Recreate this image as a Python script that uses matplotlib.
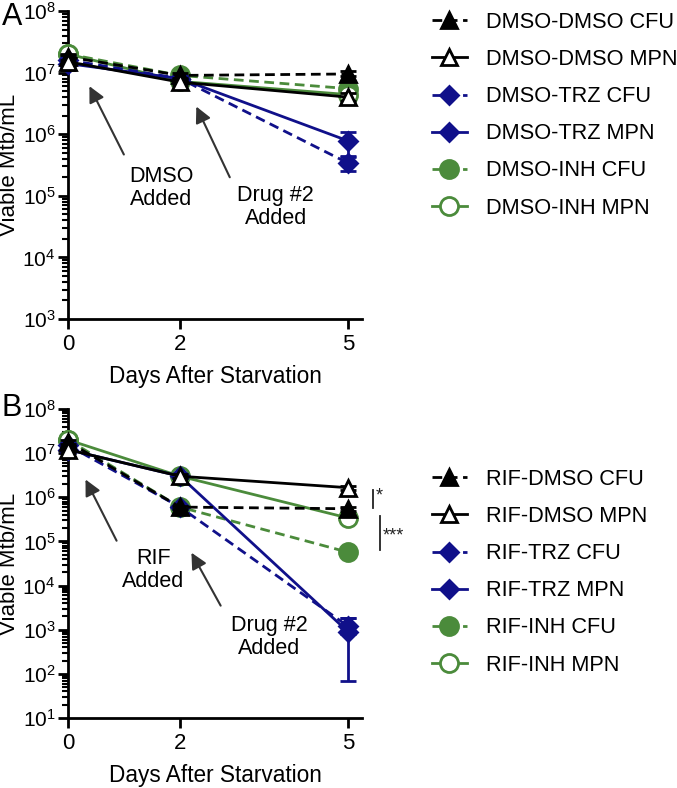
import matplotlib
matplotlib.use('Agg')
import matplotlib.pyplot as plt
from matplotlib.lines import Line2D
from matplotlib.ticker import FixedLocator, LogLocator, FuncFormatter, NullFormatter
import numpy as np

plt.rcParams['font.family'] = ['Liberation Sans', 'DejaVu Sans']
plt.rcParams['mathtext.fontset'] = 'custom'
plt.rcParams['mathtext.rm'] = 'Liberation Sans'
plt.rcParams['mathtext.it'] = 'Liberation Sans:italic'

days = [0, 2, 5]

# panel A: values, then low / high error bounds
a_dd_cfu = [1.8e7, 9.0e6, 9.5e6]
a_dd_cfu_lo = [1.6e7, 8.3e6, 8.8e6]
a_dd_cfu_hi = [2.0e7, 9.8e6, 1.05e7]
a_dd_mpn = [1.5e7, 7.0e6, 4.0e6]
a_dd_mpn_lo = [1.1e7, 6.2e6, 3.5e6]
a_dd_mpn_hi = [1.9e7, 7.8e6, 4.6e6]
a_trz_cfu = [1.6e7, 8.0e6, 3.4e5]
a_trz_cfu_lo = [1.4e7, 7.3e6, 2.5e5]
a_trz_cfu_hi = [1.8e7, 8.8e6, 4.5e5]
a_trz_mpn = [1.4e7, 8.0e6, 7.8e5]
a_trz_mpn_lo = [1.2e7, 7.3e6, 4.3e5]
a_trz_mpn_hi = [1.6e7, 8.8e6, 1.1e6]
a_inh_cfu = [2.0e7, 9.0e6, 5.5e6]
a_inh_cfu_lo = [1.8e7, 8.3e6, 5.0e6]
a_inh_cfu_hi = [2.2e7, 9.8e6, 6.0e6]
a_inh_mpn = [2.0e7, 7.2e6, 4.4e6]
a_inh_mpn_lo = [1.8e7, 6.6e6, 4.0e6]
a_inh_mpn_hi = [2.2e7, 7.8e6, 4.9e6]

# panel B
b_dd_cfu = [1.8e7, 6.0e5, 5.5e5]
b_dd_cfu_lo = [1.6e7, 5.5e5, 5.0e5]
b_dd_cfu_hi = [2.0e7, 6.5e5, 6.0e5]
b_dd_mpn = [1.2e7, 3.0e6, 1.65e6]
b_dd_mpn_lo = [1.0e7, 2.7e6, 1.5e6]
b_dd_mpn_hi = [1.4e7, 3.3e6, 1.8e6]
b_trz_cfu = [1.5e7, 6.0e5, 1.2e3]
b_trz_cfu_lo = [1.3e7, 5.5e5, 8.0e2]
b_trz_cfu_hi = [1.7e7, 6.5e5, 1.8e3]
b_trz_mpn = [1.2e7, 3.0e6, 9.0e2]
b_trz_mpn_lo = [1.0e7, 2.7e6, 70]
b_trz_mpn_hi = [1.4e7, 3.3e6, 1.8e3]
b_inh_cfu = [2.0e7, 6.0e5, 5.7e4]
b_inh_cfu_lo = [1.8e7, 5.5e5, 5.2e4]
b_inh_cfu_hi = [2.2e7, 6.5e5, 6.2e4]
b_inh_mpn = [2.0e7, 3.0e6, 3.4e5]
b_inh_mpn_lo = [1.8e7, 2.7e6, 3.1e5]
b_inh_mpn_hi = [2.2e7, 3.3e6, 3.8e5]

a_labels = ['DMSO-DMSO CFU', 'DMSO-DMSO MPN', 'DMSO-TRZ CFU',
            'DMSO-TRZ MPN', 'DMSO-INH CFU', 'DMSO-INH MPN']
b_labels = ['RIF-DMSO CFU', 'RIF-DMSO MPN', 'RIF-TRZ CFU',
            'RIF-TRZ MPN', 'RIF-INH CFU', 'RIF-INH MPN']

black = '#000000'
navy = '#10108a'
green = '#4b8b3b'
dash = (0, (3.5, 2))

# (color, marker, filled, linestyle, size, zorder)
styles = [
    (black, '^', True, dash, 12, 5),
    (black, '^', False, '-', 12, 5),
    (navy, 'D', True, dash, 9.5, 4),
    (navy, 'D', True, '-', 9.5, 4),
    (green, 'o', True, dash, 13, 3),
    (green, 'o', False, '-', 13, 3),
]


def draw(ax, series, labels):
    handles = []
    for (vals, lo, hi), lab, (c, m, filled, ls, ms, z) in zip(series, labels, styles):
        v = np.array(vals)
        yerr = [v - np.array(lo), np.array(hi) - v]
        ax.errorbar(days, v, yerr=yerr, color=c, linestyle=ls, lw=2,
                    marker=m, ms=ms, mfc=c if filled else 'white',
                    mec=c, mew=2, capsize=6, capthick=2, elinewidth=2,
                    clip_on=False, zorder=z)
        handles.append(Line2D([], [], color=c, linestyle=ls, lw=2, marker=m, ms=ms,
                              mfc=c if filled else 'white', mec=c, mew=2))
    return handles


def style_axes(ax, lo_dec):
    ax.set_yscale('log')
    ax.set_ylim(10 ** lo_dec, 1e8)
    ax.set_xlim(0, 5.25)
    ax.spines['top'].set_visible(False)
    ax.spines['right'].set_visible(False)
    ax.spines['left'].set_linewidth(2)
    ax.spines['bottom'].set_linewidth(2)
    ax.xaxis.set_major_locator(FixedLocator(days))
    ax.yaxis.set_major_locator(LogLocator(base=10, numticks=20))
    ax.yaxis.set_minor_locator(LogLocator(base=10, subs=np.arange(2, 10), numticks=20))
    ax.yaxis.set_minor_formatter(NullFormatter())
    ax.yaxis.set_major_formatter(FuncFormatter(lambda y, p: r'$10^{%d}$' % round(np.log10(y))))
    ax.tick_params(axis='both', which='major', width=2, length=7, labelsize=15, pad=2)
    ax.tick_params(axis='x', which='major', labelsize=16, pad=4)
    ax.tick_params(axis='y', which='minor', width=1.5, length=4)
    ax.set_xlabel('Days After Starvation', fontsize=16.3, labelpad=7)
    ax.set_ylabel('Viable Mtb/mL', fontsize=16, labelpad=2)


fig = plt.figure(figsize=(6.77, 7.88), dpi=100)
axA = fig.add_axes([68 / 677, 1 - 319 / 788, 294 / 677, 308 / 788])
axB = fig.add_axes([68 / 677, 1 - 718 / 788, 294 / 677, 309 / 788])

style_axes(axA, 3)
style_axes(axB, 1)

series_a = [(a_dd_cfu, a_dd_cfu_lo, a_dd_cfu_hi), (a_dd_mpn, a_dd_mpn_lo, a_dd_mpn_hi),
            (a_trz_cfu, a_trz_cfu_lo, a_trz_cfu_hi), (a_trz_mpn, a_trz_mpn_lo, a_trz_mpn_hi),
            (a_inh_cfu, a_inh_cfu_lo, a_inh_cfu_hi), (a_inh_mpn, a_inh_mpn_lo, a_inh_mpn_hi)]
series_b = [(b_dd_cfu, b_dd_cfu_lo, b_dd_cfu_hi), (b_dd_mpn, b_dd_mpn_lo, b_dd_mpn_hi),
            (b_trz_cfu, b_trz_cfu_lo, b_trz_cfu_hi), (b_trz_mpn, b_trz_mpn_lo, b_trz_mpn_hi),
            (b_inh_cfu, b_inh_cfu_lo, b_inh_cfu_hi), (b_inh_mpn, b_inh_mpn_lo, b_inh_mpn_hi)]

hA = draw(axA, series_a, a_labels)
hB = draw(axB, series_b, b_labels)

arrow = dict(arrowstyle='-|>', color='#333333', lw=1.5, mutation_scale=24)
axA.annotate('', xy=(0.36, 10 ** 6.82), xytext=(1.02, 10 ** 5.63), arrowprops=arrow)
axA.annotate('', xy=(2.27, 10 ** 6.49), xytext=(2.91, 10 ** 5.26), arrowprops=arrow)
axA.text(1.66, 10 ** 5.13, 'DMSO\nAdded', ha='center', va='center', fontsize=15.5, linespacing=1.1)
axA.text(3.71, 10 ** 4.82, 'Drug #2\nAdded', ha='center', va='center', fontsize=15.5, linespacing=1.1)

axB.annotate('', xy=(0.29, 10 ** 6.46), xytext=(0.89, 10 ** 4.96), arrowprops=arrow)
axB.annotate('', xy=(2.18, 10 ** 4.8), xytext=(2.75, 10 ** 3.49), arrowprops=arrow)
axB.text(1.52, 10 ** 4.35, 'RIF\nAdded', ha='center', va='center', fontsize=15.5, linespacing=1.1)
axB.text(3.59, 10 ** 2.83, 'Drug #2\nAdded', ha='center', va='center', fontsize=15.5, linespacing=1.1)

# significance bars
axB.plot([5.45, 5.45], [10 ** 6.16, 10 ** 5.76], color='#222222', lw=1.3, clip_on=False)
axB.plot([5.57, 5.57], [10 ** 5.57, 10 ** 4.8], color='#222222', lw=1.3, clip_on=False)
axB.text(5.5, 10 ** 6.02, '*', fontsize=13, ha='left', va='center', color='#222222')
axB.text(5.62, 10 ** 5.12, '***', fontsize=13, ha='left', va='center', color='#222222')

for ax, handles, labels, top in [(axA, hA, a_labels, 1 - 1 / 788), (axB, hB, b_labels, 1 - 458 / 788)]:
    ax.legend(handles, labels, loc='upper left', bbox_to_anchor=(421 / 677, top),
              bbox_transform=fig.transFigure, frameon=False, fontsize=15.7,
              handlelength=1.6, handletextpad=0.9, labelspacing=0.74, borderpad=0)

fig.text(2 / 677, 1 - 17 / 788, 'A', fontsize=22, va='center', ha='left')
fig.text(2 / 677, 1 - 408 / 788, 'B', fontsize=22, va='center', ha='left')

fig.savefig('out.png', dpi=100)
